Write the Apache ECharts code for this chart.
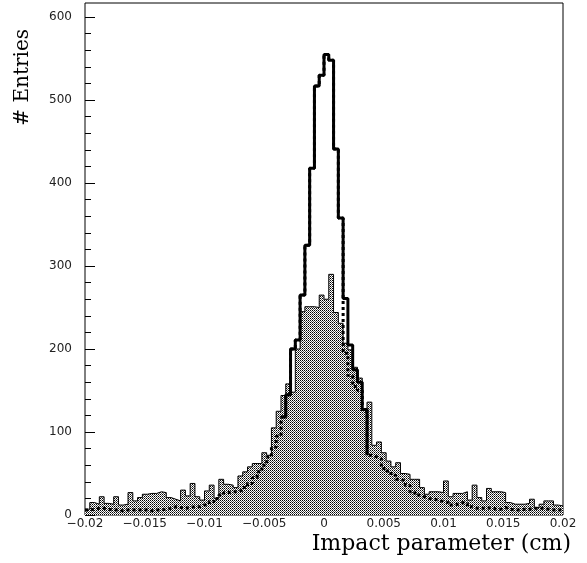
<!DOCTYPE html>
<html><head><meta charset="utf-8">
<script src="https://cdn.jsdelivr.net/npm/echarts@6/dist/echarts.min.js"></script>
<style>html,body{margin:0;padding:0;background:#fff}#c{width:587px;height:563px}</style>
</head><body><div id="c"></div>
<script>
const X_MIN = -0.02, X_MAX = 0.02, BIN_W = 0.0004, X_STEP = 0.005;
const Y_MAX = 617;
const xTickLabels = ['\u22120.02', '\u22120.015', '\u22120.01', '\u22120.005', '0', '0.005', '0.01', '0.015', '0.02'];
const yTickValues = [0, 100, 200, 300, 400, 500, 600];
const yTickLabels = ['0', '100', '200', '300', '400', '500', '600'];
const yMinorStep = 20;

// shaded (pattern-filled) histogram, 100 bins of 0.0004
const shaded = [
  7, 15, 13, 22, 14, 13, 22, 12, 13, 27,
  17, 21, 25, 26, 26, 28, 27, 21, 19, 17,
  30, 23, 38, 22, 18, 29, 36, 20, 43, 37,
  36, 33, 47, 52, 58, 62, 62, 75, 72, 105,
  125, 144, 158, 148, 200, 245, 251, 251, 250, 265,
  260, 290, 244, 231, 207, 199, 178, 165, 127, 136,
  84, 88, 75, 65, 58, 63, 50, 49, 43, 43,
  33, 25, 28, 28, 27, 41, 22, 26, 26, 28,
  18, 36, 21, 17, 32, 28, 28, 27, 15, 13,
  13, 13, 14, 19, 9, 13, 17, 17, 12, 11
];
// dotted histogram
const dotted = [
  6, 7, 8, 8, 7, 6, 6, 5, 6, 6,
  6, 6, 6, 5, 6, 6, 7, 8, 10, 9,
  8, 9, 10, 10, 12, 13, 16, 20, 24, 27,
  28, 28, 30, 33, 38, 45, 52, 60, 70, 82,
  95, 118, 145, 200, 211, 265, 325, 418, 517, 530,
  555, 548, 441, 358, 195, 168, 155, 150, 125, 72,
  70, 68, 56, 53, 48, 43, 41, 36, 28, 24,
  22, 20, 19, 18, 16, 15, 12, 13, 15, 14,
  10, 8, 8, 8, 9, 7, 7, 9, 7, 6,
  6, 7, 7, 8, 8, 8, 7, 6, 6, 6
];
// thick solid histogram (only where it separates from the dotted one)
const solid = [
  null, null, null, null, null, null, null, null, null, null,
  null, null, null, null, null, null, null, null, null, null,
  null, null, null, null, null, null, null, null, null, null,
  null, null, null, null, null, null, null, null, null, null,
  null, 118, 145, 200, 211, 265, 325, 418, 517, 530,
  555, 548, 441, 358, 261, 205, 175, 160, 127, 72,
  null, null, null, null, null, null, null, null, null, null,
  null, null, null, null, null, null, null, null, null, null,
  null, null, null, null, null, null, null, null, null, null,
  null, null, null, null, null, null, null, null, null, null
];

function stepData(vals) {
  const pts = [];
  let last = -1;
  vals.forEach((v, i) => {
    if (v == null) return;
    pts.push([X_MIN + i * BIN_W, v]);
    last = i;
  });
  if (last === vals.length - 1) pts.push([X_MIN + vals.length * BIN_W, vals[last]]);
  return pts;
}

const minorTicks = [];
for (let v = 0; v <= 600; v += yMinorStep) minorTicks.push(v);

const pc = document.createElement('canvas');
pc.width = 2; pc.height = 2;
const pctx = pc.getContext('2d');
pctx.fillStyle = '#fff'; pctx.fillRect(0, 0, 2, 2);
pctx.fillStyle = '#000'; pctx.fillRect(0, 0, 1, 1);
pctx.fillStyle = '#555'; pctx.fillRect(1, 1, 1, 1);

const chart = echarts.init(document.getElementById('c'), null, { renderer: 'canvas' });
const labelFont = { fontFamily: 'DejaVu Sans', fontSize: 12, color: '#222' };
chart.setOption({
  animation: false,
  backgroundColor: '#fff',
  grid: { left: 85, right: 24, top: 3, bottom: 48, show: true, borderColor: '#000', borderWidth: 1, backgroundColor: 'transparent' },
  xAxis: {
    type: 'value', min: X_MIN, max: X_MAX, interval: X_STEP,
    axisLine: { show: false, onZero: false }, axisTick: { show: false }, splitLine: { show: false },
    axisLabel: Object.assign({
      margin: 3, showMinLabel: true, showMaxLabel: true,
      formatter: v => xTickLabels[Math.round((v - X_MIN) / X_STEP)]
    }, labelFont)
  },
  yAxis: [{
    type: 'value', min: 0, max: Y_MAX, interval: 100, position: 'left',
    axisLine: { show: false, onZero: false }, splitLine: { show: false },
    axisTick: { show: true, inside: true, length: 10, customValues: yTickValues, lineStyle: { color: '#000', width: 1 } },
    axisLabel: Object.assign({
      margin: 13, customValues: yTickValues,
      formatter: v => yTickLabels[yTickValues.indexOf(v)]
    }, labelFont)
  }, {
    type: 'value', min: 0, max: Y_MAX, interval: yMinorStep, position: 'left', offset: 0,
    axisLine: { show: false, onZero: false }, splitLine: { show: false }, axisLabel: { show: false },
    axisTick: { show: true, inside: true, length: 6, customValues: minorTicks, lineStyle: { color: '#000', width: 1 } }
  }],
  series: [{
    type: 'line', step: 'end', data: stepData(shaded), symbol: 'none', yAxisIndex: 0,
    lineStyle: { color: '#000', width: 1 },
    areaStyle: { color: { image: pc, repeat: 'repeat' }, opacity: 1 }
  }, {
    type: 'line', step: 'end', data: stepData(dotted), symbol: 'none', yAxisIndex: 0,
    lineStyle: { color: '#000', width: 3, type: [3, 3] }
  }, {
    type: 'line', step: 'end', data: stepData(solid), symbol: 'none', yAxisIndex: 0,
    lineStyle: { color: '#000', width: 3 }
  }],
  graphic: [{
    type: 'text', x: 23, y: 29, rotation: Math.PI / 2,
    style: { text: '# Entries', font: '20px "DejaVu Serif"', textAlign: 'right', textVerticalAlign: 'middle', fill: '#000' }
  }, {
    type: 'text', x: 571, y: 555,
    style: { text: 'Impact parameter (cm)', font: '22px "DejaVu Serif"', textAlign: 'right', textVerticalAlign: 'bottom', fill: '#000' }
  }]
});
</script></body></html>
